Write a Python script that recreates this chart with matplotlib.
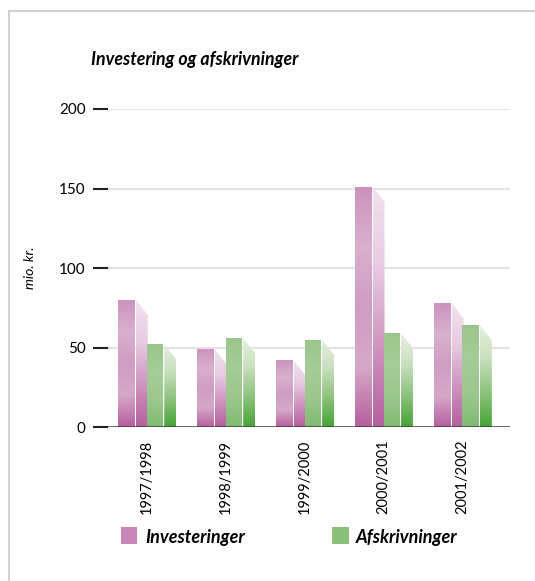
import numpy as np
import matplotlib.pyplot as plt
from matplotlib.patches import Polygon, Rectangle
from matplotlib.colors import LinearSegmentedColormap

years = ['1997/1998', '1998/1999', '1999/2000', '2000/2001', '2001/2002']
investeringer = [80, 49, 42, 151, 78]
afskrivninger = [52, 56, 55, 59, 64]
yticks = [0, 50, 100, 150, 200]

plt.rcParams['font.family'] = ['Lato', 'DejaVu Sans']

fig = plt.figure(figsize=(5.35, 5.81), dpi=100)
ax = fig.add_axes([0.202, 0.265, 0.751, 0.5474])

# frame around the figure
fig.add_artist(plt.Line2D([9/535, 1], [1 - 11/581, 1 - 11/581], color='#d2d2d2', lw=1.5))
fig.add_artist(plt.Line2D([9/535, 9/535], [0, 1 - 11/581], color='#d2d2d2', lw=1.5))

x = np.arange(len(years))
fw = 0.21    # front face width
sw = 0.15    # side face width
drop = 9.5   # slant of side top

pink_front = LinearSegmentedColormap.from_list('pf', ['#b65f9f', '#d6a8c8', '#cf9dc3', '#d9b0cd', '#cb92bd'])
pink_side = LinearSegmentedColormap.from_list('ps', ['#b4609f', '#cf94c0', '#e8cbe2', '#f2e2ef'])
green_front = LinearSegmentedColormap.from_list('gf', ['#80bb72', '#9cc78e', '#a6cc98', '#9ac68b'])
green_side = LinearSegmentedColormap.from_list('gs', ['#45a436', '#8cc27c', '#c8dfbd', '#e6efe0'])

grad = np.linspace(0, 1, 256).reshape(-1, 1)


def shaded(xs, ys, cmap, top):
    poly = Polygon(list(zip(xs, ys)), closed=True, facecolor='none', edgecolor='none')
    ax.add_patch(poly)
    im = ax.imshow(grad, cmap=cmap, origin='lower', aspect='auto',
                   extent=[min(xs), max(xs), 0, top], zorder=2)
    im.set_clip_path(poly)


for i in range(len(years)):
    for k, (v, cf, cs) in enumerate([(investeringer[i], pink_front, pink_side),
                                     (afskrivninger[i], green_front, green_side)]):
        x0 = x[i] - fw - sw + k * (fw + sw)
        shaded([x0, x0 + fw, x0 + fw, x0], [0, 0, v, v], cf, v)
        s0 = x0 + fw + 0.012
        shaded([s0, s0 + sw, s0 + sw, s0], [0, 0, v - drop, v], cs, v)

ax.set_xlim(-0.49, 4.6)
ax.set_ylim(0, 200)
for t in yticks[1:]:
    ax.axhline(t, color='#e3e3e3', lw=1.5, zorder=0)
ax.axhline(0, color='#3a3a3a', lw=1.8, zorder=3)

for s in ax.spines.values():
    s.set_visible(False)
ax.set_yticks(yticks)
ax.set_yticklabels([str(t) for t in yticks], fontsize=11)
ax.tick_params(axis='y', length=11, width=1.5, color='#222222', pad=5)
ax.set_xticks(x)
ax.set_xticklabels(years, rotation=90, fontsize=10.5)
ax.tick_params(axis='x', length=0, pad=9)
ax.set_ylabel('mio. kr.', fontsize=10, style='italic')
ax.yaxis.set_label_coords(-0.18, 0.5)

fig.text(91/535, 1 - 60/581, 'Investering og afskrivninger', fontsize=12.8,
         weight='bold', style='italic', va='center', ha='left')

# legend
fig.patches.append(Rectangle((121/535, 1 - 544/581), 16/535, 17/581, transform=fig.transFigure,
                             facecolor='#c885b6', edgecolor='none'))
fig.text(145/535, 1 - 537/581, 'Investeringer', fontsize=13, weight='bold', style='italic', va='center')
fig.patches.append(Rectangle((332/535, 1 - 544/581), 17/535, 17/581, transform=fig.transFigure,
                             facecolor='#8bc07b', edgecolor='none'))
fig.text(356/535, 1 - 537/581, 'Afskrivninger', fontsize=13, weight='bold', style='italic', va='center')

fig.savefig('out.png', dpi=100)
